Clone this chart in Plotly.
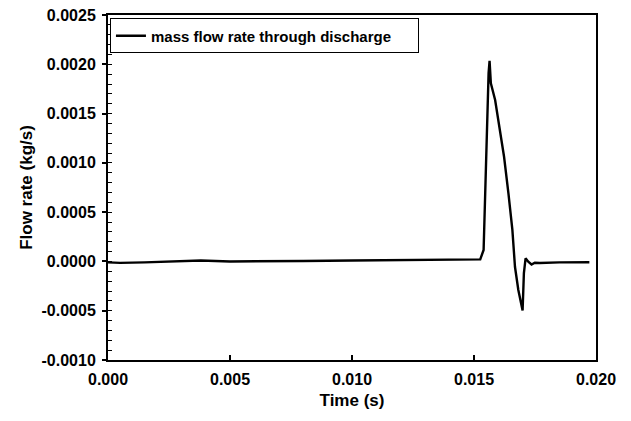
import plotly.graph_objects as go

# time (s) and mass flow rate (kg/s)
time_s = [0.0, 0.0005, 0.0015, 0.0025, 0.0038, 0.005, 0.0065, 0.008, 0.010, 0.013,
          0.01505, 0.015256, 0.015394, 0.015459, 0.015528, 0.015598, 0.015638,
          0.015691, 0.015866, 0.016045, 0.016232, 0.016411, 0.016573, 0.016679,
          0.016817, 0.016992, 0.017045, 0.017114, 0.017224, 0.017358, 0.017492,
          0.017695, 0.0185, 0.019728]
flow_kg_s = [-0.00001, -0.000015, -0.00001, 0.0, 0.00001, 0.0, 0.0, 0.000005, 0.00001, 0.000013,
             0.00002, 0.000021, 0.000116, 0.000724, 0.001404, 0.00191, 0.002036,
             0.001807, 0.001637, 0.001367, 0.001062, 0.000691, 0.000319, -0.000054,
             -0.00029, -0.000498, -0.000118, 0.000031, -0.000003, -0.000031, -0.000013,
             -0.000016, -0.00001, -0.000009]

series_name = "mass flow rate through discharge"

# tick labels (plain hyphen as in the original, not the unicode minus)
x_ticks = [0.0, 0.005, 0.010, 0.015, 0.020]
x_tick_text = ["0.000", "0.005", "0.010", "0.015", "0.020"]
y_ticks = [-0.0010, -0.0005, 0.0, 0.0005, 0.0010, 0.0015, 0.0020, 0.0025]
y_tick_text = ["-0.0010", "-0.0005", "0.0000", "0.0005", "0.0010", "0.0015", "0.0020", "0.0025"]

font_family = "Liberation Sans, Arial, sans-serif"

fig = go.Figure()
fig.add_trace(go.Scatter(x=time_s, y=flow_kg_s, mode="lines", name=series_name,
                         line=dict(color="black", width=2.4)))

# the html page has an 8px body margin, so the figure is drawn 8px smaller
fig.update_layout(
    width=623, height=413,
    paper_bgcolor="white", plot_bgcolor="white",
    margin=dict(l=100, r=35, t=7, b=61),
    font=dict(family=font_family, color="black"),
    showlegend=True,
    legend=dict(x=0.004, y=0.99, xanchor="left", yanchor="top",
                orientation="h", entrywidth=262,
                bgcolor="white", bordercolor="black", borderwidth=1,
                font=dict(size=15, family=font_family, weight="bold")),
)

fig.update_xaxes(
    range=[0, 0.02], tickvals=x_ticks, ticktext=x_tick_text,
    showgrid=False, zeroline=False, automargin="bottom",
    showline=True, linecolor="black", linewidth=2, mirror=True,
    ticks="inside", ticklen=5, tickwidth=1.5, tickcolor="black",
    ticklabelstandoff=4, ticklabeloverflow="allow",
    tickfont=dict(size=16, weight="bold"),
    title=dict(text="Time (s)", font=dict(size=17, weight="bold"), standoff=7),
)
fig.update_yaxes(
    range=[-0.001, 0.0025], tickvals=y_ticks, ticktext=y_tick_text,
    showgrid=False, zeroline=False, automargin="left",
    showline=True, linecolor="black", linewidth=2, mirror=True,
    ticks="outside", ticklen=4, tickwidth=1.5, tickcolor="black",
    ticklabelstandoff=3, ticklabeloverflow="allow",
    minor=dict(tickvals=[v / 10000 for v in range(-10, 25)], ticks="inside",
               ticklen=4, tickcolor="black", tickwidth=1),
    tickfont=dict(size=16, weight="bold"),
    title=dict(text="Flow rate (kg/s)", font=dict(size=17, weight="bold"), standoff=5),
)

fig.write_html("out.html")
